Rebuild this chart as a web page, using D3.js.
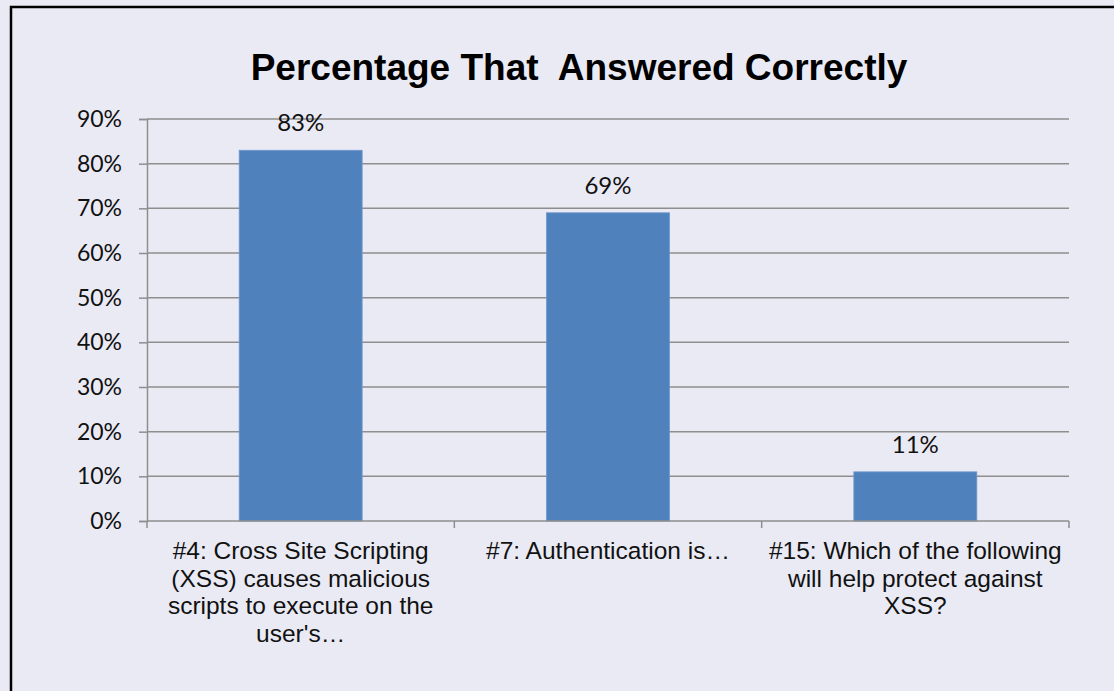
<!DOCTYPE html>
<html>
<head>
<meta charset="utf-8">
<script src="https://cdn.jsdelivr.net/npm/d3@7"></script>
<style>
  html, body { margin: 0; padding: 0; background: #EAEAF5; }
  svg { display: block; }
</style>
</head>
<body>
<svg id="chart" width="1114" height="691"></svg>
<script>
// Survey questions (wrapped as shown under each bar)
const categories = ["q4", "q7", "q15"];
const categoryLines = [
  ["#4: Cross Site Scripting", "(XSS) causes malicious", "scripts to execute on the", "user's\u2026"],
  ["#7: Authentication is\u2026"],
  ["#15: Which of the following", "will help protect against", "XSS?"]
];
// Share of respondents answering correctly
const values = [0.83, 0.69, 0.11];
const yTicks = [0, 0.1, 0.2, 0.3, 0.4, 0.5, 0.6, 0.7, 0.8, 0.9];
const titleText = "Percentage That  Answered Correctly";

const svg = d3.select("#chart");
const W = 1114, H = 691;

svg.append("rect").attr("width", W).attr("height", H).attr("fill", "#EAEAF5");

// Frame around the chart (open to the right and bottom)
svg.append("path")
  .attr("d", "M11,691 L11,7 L1114,7")
  .attr("fill", "none")
  .attr("stroke", "#000")
  .attr("stroke-width", 2.5);

const plot = { left: 147, right: 1069, top: 119, bottom: 521 };

const x = d3.scaleBand()
  .domain(categories)
  .range([plot.left, plot.right])
  .paddingInner(0.6)
  .paddingOuter(0.3);

const y = d3.scaleLinear()
  .domain([0, 0.9])
  .range([plot.bottom, plot.top]);

const gridColor = "#8E8E8E";
const labelFont = "Lato, 'Open Sans', sans-serif";

// Horizontal gridlines + y axis
const yAxis = d3.axisLeft(y)
  .tickValues(yTicks)
  .tickFormat(d3.format(".0%"))
  .tickSize(8)
  .tickPadding(17);

const gy = svg.append("g")
  .attr("transform", `translate(${plot.left},0)`)
  .call(yAxis);
gy.select(".domain").attr("stroke", gridColor).attr("stroke-width", 1.5);
gy.selectAll(".tick line").attr("stroke", gridColor).attr("stroke-width", 1.5);
gy.selectAll(".tick text")
  .attr("fill", "#111")
  .style("font-family", labelFont)
  .style("font-size", "23px");

svg.append("g")
  .selectAll("line")
  .data(yTicks.filter(d => d > 0))
  .join("line")
  .attr("x1", plot.left)
  .attr("x2", plot.right)
  .attr("y1", d => y(d))
  .attr("y2", d => y(d))
  .attr("stroke", gridColor)
  .attr("stroke-width", 1.5);

// Bars
svg.append("g")
  .selectAll("rect")
  .data(values)
  .join("rect")
  .attr("x", (d, i) => x(categories[i]))
  .attr("y", d => y(d))
  .attr("width", x.bandwidth())
  .attr("height", d => y(0) - y(d))
  .attr("fill", "#4F81BD")
  .attr("stroke", "#6F97CB")
  .attr("stroke-width", 0.8);

// Category axis: baseline and boundary ticks
const step = x.step();
const bounds = [plot.left].concat(categories.map((c, i) => plot.left + step * (i + 1)));
svg.append("line")
  .attr("x1", plot.left).attr("x2", plot.right)
  .attr("y1", y(0)).attr("y2", y(0))
  .attr("stroke", gridColor).attr("stroke-width", 1.5);
svg.append("g")
  .selectAll("line")
  .data(bounds)
  .join("line")
  .attr("x1", d => d).attr("x2", d => d)
  .attr("y1", y(0)).attr("y2", y(0) + 7)
  .attr("stroke", gridColor).attr("stroke-width", 1.5);

// Value labels
svg.append("g")
  .selectAll("text")
  .data(values)
  .join("text")
  .attr("x", (d, i) => x(categories[i]) + x.bandwidth() / 2)
  .attr("y", d => y(d) - 19)
  .attr("text-anchor", "middle")
  .attr("fill", "#111")
  .style("font-family", labelFont)
  .style("font-size", "24px")
  .text(d => d3.format(".0%")(d));

// Category labels
const catG = svg.append("g");
categoryLines.forEach((lines, i) => {
  const cx = x(categories[i]) + x.bandwidth() / 2;
  const t = catG.append("text")
    .attr("text-anchor", "middle")
    .attr("fill", "#111")
    .style("font-family", "'Liberation Sans', Arial, sans-serif")
    .style("font-size", "24.5px");
  lines.forEach((ln, j) => {
    t.append("tspan")
      .attr("x", cx)
      .attr("y", 559 + j * 27.7)
      .text(ln);
  });
});

// Title
svg.append("text")
  .attr("x", 579)
  .attr("y", 80)
  .attr("text-anchor", "middle")
  .attr("fill", "#000")
  .style("font-family", "'Liberation Sans', Arial, sans-serif")
  .style("font-weight", "bold")
  .style("font-size", "37px")
  .style("white-space", "pre")
  .text(titleText);
</script>
</body>
</html>
